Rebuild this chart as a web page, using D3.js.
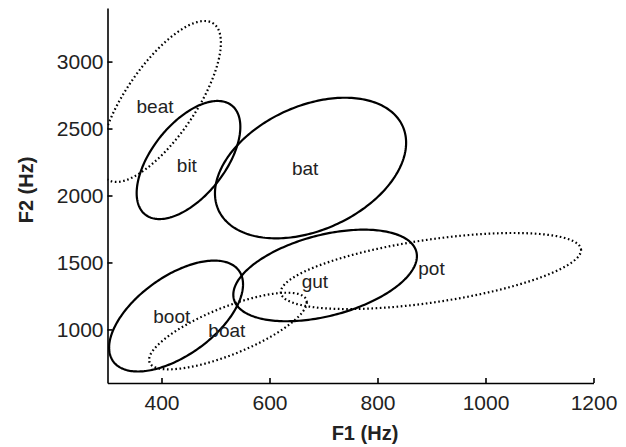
<!DOCTYPE html>
<html>
<head>
<meta charset="utf-8">
<script src="https://cdn.jsdelivr.net/npm/d3@7/dist/d3.min.js"></script>
<style>
  html, body { margin: 0; padding: 0; background: #fff; }
  svg { display: block; font-family: "Liberation Sans", Arial, sans-serif; }
</style>
</head>
<body>
<svg id="chart" width="626" height="447"></svg>
<script>
// ---- data (F1/F2 in Hz) ----
const vowels   = ["beat", "bit", "bat", "boot", "boat", "gut", "pot"];
const meanF1   = [398, 450, 676, 427, 523, 703, 899];
const meanF2   = [2702, 2265, 2205, 1100, 988, 1403, 1436];
const spreadF1 = [112, 96, 177, 124, 146, 170, 278];
const spreadF2 = [601, 441, 525, 414, 286, 342, 284];
const corrF1F2 = [0.73, 0.56, 0.36, 0.57, 0.75, 0.42, 0.55];
const dotted   = [true, false, false, false, true, false, true];
const labelF1  = [388, 447, 666, 419, 521, 684, 900];
const labelF2  = [2668, 2228, 2203, 1095, 996, 1356, 1456];
const xTicks   = [400, 600, 800, 1000, 1200];
const yTicks   = [1000, 1500, 2000, 2500, 3000];
const xDomain  = [300, 1200];
const yDomain  = [600, 3400];

// ---- layout ----
const svg = d3.select("#chart");
const mLeft = 107.5, mRight = 593.5, mTop = 8, mBottom = 383;
const x = d3.scaleLinear().domain(xDomain).range([mLeft, mRight]);
const y = d3.scaleLinear().domain(yDomain).range([mBottom, mTop]);

svg.append("clipPath").attr("id", "plotclip")
  .append("rect").attr("x", mLeft).attr("y", mTop)
  .attr("width", mRight - mLeft).attr("height", mBottom - mTop);

const N = 240;
function ellipsePoints(i) {
  const pts = [];
  const r = corrF1F2[i], k = Math.sqrt(1 - r * r);
  for (let j = 0; j < N; j++) {
    const t = 2 * Math.PI * j / N;
    pts.push([
      meanF1[i] + spreadF1[i] * Math.cos(t),
      meanF2[i] + spreadF2[i] * (r * Math.cos(t) + k * Math.sin(t))
    ]);
  }
  return pts;
}
const line = d3.line().x(d => x(d[0])).y(d => y(d[1])).curve(d3.curveLinearClosed);

const g = svg.append("g").attr("clip-path", "url(#plotclip)");
vowels.forEach((v, i) => {
  g.append("path")
    .attr("d", line(ellipsePoints(i)))
    .attr("fill", "none")
    .attr("stroke", "#000")
    .attr("stroke-width", 2.2)
    .attr("stroke-dasharray", dotted[i] ? "1.6 2.6" : null)
    .attr("stroke-linecap", dotted[i] ? "butt" : "round");
});

// labels
svg.append("g").selectAll("text").data(vowels).join("text")
  .attr("x", (d, i) => x(labelF1[i]))
  .attr("y", (d, i) => y(labelF2[i]))
  .attr("text-anchor", "middle")
  .attr("dy", "0.35em")
  .attr("font-size", 19)
  .attr("fill", "#222")
  .text(d => d);

// axes
const fmt = d3.format("d");
const xAxis = d3.axisBottom(x).tickValues(xTicks).tickFormat(fmt).tickSizeInner(-5).tickSizeOuter(0).tickPadding(12);
const yAxis = d3.axisLeft(y).tickValues(yTicks).tickFormat(fmt).tickSizeInner(-5).tickSizeOuter(0).tickPadding(4);

const gx = svg.append("g").attr("transform", `translate(0,${mBottom})`).call(xAxis);
const gy = svg.append("g").attr("transform", `translate(${mLeft},0)`).call(yAxis);
[gx, gy].forEach(a => {
  a.select(".domain").attr("stroke", "#000").attr("stroke-width", 1.6);
  a.selectAll(".tick line").attr("stroke", "#000").attr("stroke-width", 1.6);
  a.selectAll(".tick text").attr("font-size", 21).attr("fill", "#222")
    .attr("font-family", "Liberation Sans, Arial, sans-serif");
});
gx.selectAll(".tick text").attr("dy", "0.71em");

// axis titles
svg.append("text")
  .attr("x", 365).attr("y", 440)
  .attr("text-anchor", "middle")
  .attr("font-size", 20).attr("font-weight", "bold").attr("fill", "#222")
  .text("F1 (Hz)");
svg.append("text")
  .attr("transform", "translate(33,190) rotate(-90)")
  .attr("text-anchor", "middle")
  .attr("font-size", 20).attr("font-weight", "bold").attr("fill", "#222")
  .text("F2 (Hz)");
</script>
</body>
</html>
